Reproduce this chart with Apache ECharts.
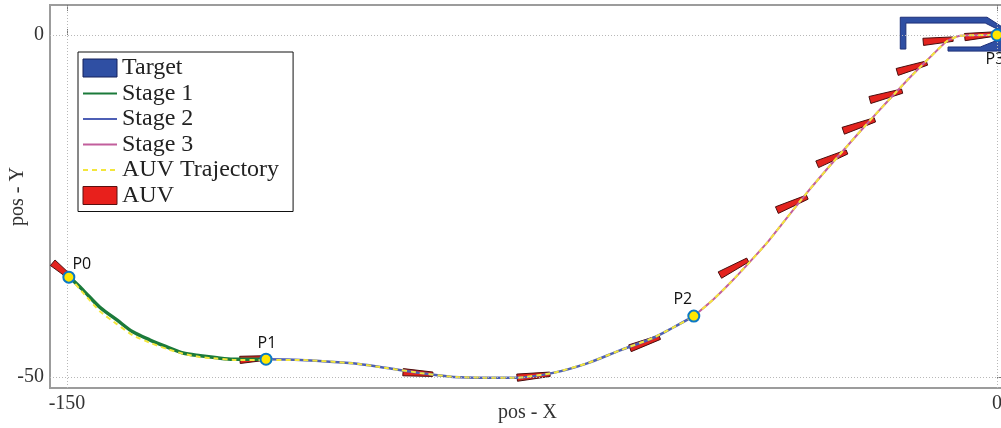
<!DOCTYPE html>
<html><head><meta charset="utf-8">
<script src="https://cdn.jsdelivr.net/npm/echarts@6/dist/echarts.min.js"></script>
<style>html,body{margin:0;padding:0;background:#fff}#c{width:1001px;height:428px}</style>
</head><body><div id="c"></div>
<script>
// ---- data ----
const STAGE1 = [[-149.6,-35.4],[-147.4,-37.3],[-144.7,-39.8],[-141.9,-41.7],[-139.4,-43.4],[-136.6,-44.6],[-133.9,-45.6],[-131.3,-46.5],[-128.5,-46.9],[-125.8,-47.2],[-123.2,-47.4],[-117.9,-47.4]];
const STAGE2 = [[-117.9,-47.4],[-112.4,-47.5],[-103.9,-48.0],[-98.4,-48.7],[-93.1,-49.4],[-87.7,-50.0],[-82.3,-50.1],[-77.4,-50.1],[-71.6,-49.4],[-66.1,-48.0],[-60.8,-46.1],[-55.5,-44.3],[-52.3,-42.8],[-48.9,-41.1]];
const STAGE3 = [[-48.9,-41.1],[-45.8,-38.7],[-43.1,-36.3],[-40.3,-33.6],[-37.1,-30.4],[-35.0,-28.0],[-30.6,-23.0],[-25.3,-17.4],[-20.0,-12.0],[-15.2,-7.3],[-11.3,-3.7],[-8.1,-0.9],[-6.0,-0.1],[0,0]];
const TRAJ = [[-149.6,-35.4],[-147.4,-37.7],[-144.7,-40.4],[-141.9,-42.3],[-139.4,-43.9],[-136.6,-45.0],[-133.9,-45.9],[-131.3,-46.6],[-128.5,-47.1],[-125.8,-47.3],[-123.2,-47.5],[-117.9,-47.5],
  [-112.4,-47.5],[-103.9,-48.0],[-98.4,-48.7],[-93.1,-49.4],[-87.7,-50.0],[-82.3,-50.1],[-77.4,-50.1],[-71.6,-49.4],[-66.1,-48.0],[-60.8,-46.1],[-55.5,-44.3],[-52.3,-42.8],[-48.9,-41.1],
  [-45.8,-38.7],[-43.1,-36.3],[-40.3,-33.6],[-37.1,-30.4],[-35.0,-28.0],[-30.6,-23.0],[-25.3,-17.4],[-20.0,-12.0],[-15.2,-7.3],[-11.3,-3.7],[-8.1,-0.9],[-6.0,-0.1],[0,0]];
// AUV bodies: [tailX, tailY, noseX, noseY]
const AUV = [[-152.3,-33.3,-149.5,-35.4],[-122.1,-47.5,-117.7,-47.2],[-95.8,-49.3,-91.0,-49.6],[-77.4,-50.1,-72.1,-49.6],[-59.2,-45.8,-54.4,-44.2],
  [-44.7,-35.1,-40.2,-32.9],[-35.5,-25.6,-30.6,-23.7],[-29.0,-18.9,-24.2,-17.1],[-24.8,-14.0,-19.7,-12.4],[-20.5,-9.5,-15.3,-8.2],
  [-16.1,-5.4,-11.3,-4.1],[-11.9,-1.0,-7.1,-0.6],[-5.2,-0.3,-0.3,0.15]];
const TARGET_UPPER = [[-15.6,2.6],[-1.6,2.6],[1.3,0.9],[1.3,0.3],[-1.9,1.75],[-14.7,1.75],[-14.7,-2.05],[-15.6,-2.05]];
const TARGET_LOWER = [[-7.9,-1.75],[-2.7,-1.75],[1.3,-0.3],[1.3,-2.35],[-7.9,-2.35]];
const TARGET_PARTS = [TARGET_UPPER, TARGET_LOWER];
const POINT_NAMES = ['P0','P1','P2','P3'];
const POINTS = [[-149.7,-35.4],[-117.9,-47.4],[-48.9,-41.1],[0,0]];
const X_TICKS = [-150, 0];
const Y_TICKS = [-50, 0];
const LEGEND_NAMES = ['Target','Stage 1','Stage 2','Stage 3','AUV Trajectory','AUV'];

// ---- styles ----
const LABEL_STYLE = [
  {position:'top', distance:0, offset:[13,2]},
  {position:'top', distance:0, offset:[1,-1]},
  {position:'top', distance:0, offset:[-11,-2]},
  {position:'bottom', distance:10, offset:[-2,0]}
];
const SERIF = 'Liberation Serif';

const chart = echarts.init(document.getElementById('c'));
const axisCommon = {
  type:'value', axisLine:{show:false}, splitLine:{show:false}, nameMoveOverlap:false
};
const hideSym = {opacity:0};
chart.setOption({
  animation:false,
  backgroundColor:'#fff',
  grid:{left:50, top:5, width:955, height:383, containLabel:false, outerBoundsMode:'none',
    show:true, borderColor:'#9c9c9c', borderWidth:2, backgroundColor:'#fff'},
  xAxis:[
    Object.assign({}, axisCommon, {min:-152.74, max:1.29, position:'bottom',
      name:'pos - X', nameLocation:'middle', nameGap:15, nameTextStyle:{fontFamily:SERIF, fontSize:20, color:'#333', verticalAlign:'top'},
      axisTick:{inside:true, length:6, customValues:X_TICKS, lineStyle:{color:'#777'}},
      axisLabel:{customValues:X_TICKS, margin:6, fontFamily:SERIF, fontSize:20, color:'#333'}}),
    Object.assign({}, axisCommon, {min:-152.74, max:1.29, position:'top',
      axisTick:{inside:true, length:6, customValues:X_TICKS, lineStyle:{color:'#777'}},
      axisLabel:{show:false, customValues:X_TICKS}})
  ],
  yAxis:[
    Object.assign({}, axisCommon, {min:-51.61, max:4.39,
      name:'pos - Y', nameLocation:'middle', nameGap:22, nameRotate:90, nameTextStyle:{fontFamily:SERIF, fontSize:20, color:'#333', verticalAlign:'bottom'},
      axisTick:{inside:true, length:6, customValues:Y_TICKS, lineStyle:{color:'#777'}},
      axisLabel:{customValues:Y_TICKS, margin:6, fontFamily:SERIF, fontSize:20, color:'#333'}})
  ],
  legend:{
    orient:'vertical', left:78, top:52, padding:[4,14,4,4], itemGap:1.5,
    itemWidth:34, itemHeight:18, backgroundColor:'#fff', borderColor:'#111', borderWidth:1,
    textStyle:{fontFamily:SERIF, fontSize:24, color:'#222'},
    data:[
      {name:LEGEND_NAMES[0], icon:'rect', itemStyle:{color:'#2f4fa3', borderColor:'#14205a', borderWidth:1, borderType:'solid'}},
      {name:LEGEND_NAMES[1], itemStyle:hideSym},
      {name:LEGEND_NAMES[2], itemStyle:hideSym},
      {name:LEGEND_NAMES[3], itemStyle:hideSym},
      {name:LEGEND_NAMES[4], itemStyle:hideSym},
      {name:LEGEND_NAMES[5], icon:'rect', itemStyle:{color:'#e8201c', borderColor:'#5a1010', borderWidth:1, borderType:'solid'}}
    ]
  },
  series:[
    {type:'line', name:'grid', data:[], silent:true,
      markLine:{silent:true, symbol:'none', label:{show:false},
        lineStyle:{type:[1,2], color:'#b8b8b8', width:1},
        data:[{xAxis:X_TICKS[0]},{xAxis:X_TICKS[1]},{yAxis:Y_TICKS[0]},{yAxis:Y_TICKS[1]}]}},
    {type:'line', name:LEGEND_NAMES[1], data:STAGE1, smooth:0.3, symbol:'none', lineStyle:{color:'#1b7a3a', width:3.5}, itemStyle:{color:'#1b7a3a'}},
    {type:'line', name:LEGEND_NAMES[2], data:STAGE2, smooth:0.3, symbol:'none', lineStyle:{color:'#4d5fb5', width:2.5}, itemStyle:{color:'#4d5fb5'}},
    {type:'line', name:LEGEND_NAMES[3], data:STAGE3, smooth:0.15, symbol:'none', lineStyle:{color:'#c25e9c', width:2}, itemStyle:{color:'#c25e9c'}},
    {type:'line', name:LEGEND_NAMES[4], data:TRAJ, smooth:0.15, symbol:'none', lineStyle:{color:'#f3e63c', width:2, type:[5,4]}, itemStyle:{color:'#f3e63c'}},
    {type:'custom', name:LEGEND_NAMES[5], data:AUV, encode:{x:[0,2], y:[1,3]}, itemStyle:{color:'#e8201c'},
      renderItem:function(params, api){
        const a = api.coord([api.value(0), api.value(1)]);
        const b = api.coord([api.value(2), api.value(3)]);
        const dx=b[0]-a[0], dy=b[1]-a[1], L=Math.hypot(dx,dy)||1;
        const nx=-dy/L, ny=dx/L, w1=3.6, w2=2.2;
        return {type:'polygon', shape:{points:[[a[0]+nx*w1,a[1]+ny*w1],[b[0]+nx*w2,b[1]+ny*w2],[b[0]-nx*w2,b[1]-ny*w2],[a[0]-nx*w1,a[1]-ny*w1]]},
          style:{fill:'#e3231e', stroke:'#4a0e0e', lineWidth:1}};
      }},
    {type:'custom', name:LEGEND_NAMES[0], data:TARGET_PARTS.map(p=>p[0]), encode:{x:0, y:1}, itemStyle:{color:'#2f4fa3'},
      renderItem:function(params, api){
        const pts = TARGET_PARTS[params.dataIndex].map(p=>api.coord(p));
        return {type:'polygon', shape:{points:pts}, style:{fill:'#2f4fa3', stroke:'#1d2f78', lineWidth:1}};
      }},
    {type:'scatter', name:'points', data:POINT_NAMES.map((n,i)=>({name:n, value:POINTS[i], label:LABEL_STYLE[i]})),
      symbolSize:11, z:10, itemStyle:{color:'#ffe600', borderColor:'#0a78c6', borderWidth:2, opacity:1},
      label:{show:true, formatter:'{b}', fontFamily:'Open Sans', fontSize:16, color:'#111', lineHeight:16}}
  ]
});
</script></body></html>
